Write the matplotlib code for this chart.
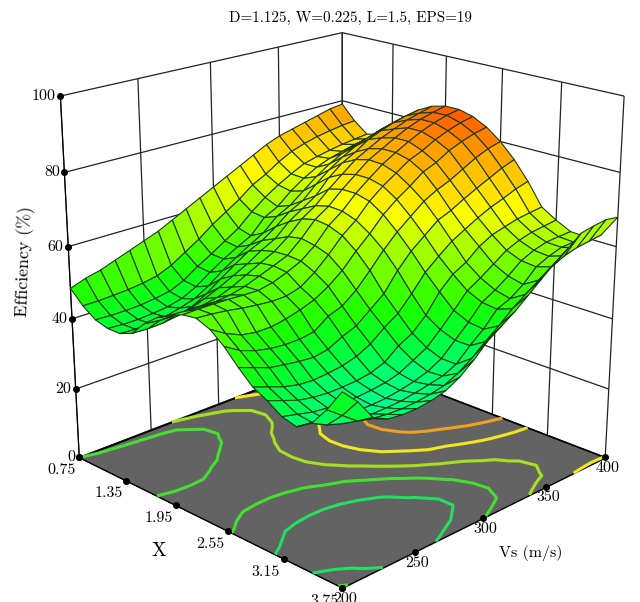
import numpy as np
import matplotlib
matplotlib.use("Agg")
import matplotlib.pyplot as plt
from matplotlib.colors import LinearSegmentedColormap, Normalize
from mpl_toolkits.mplot3d.art3d import Poly3DCollection

plt.rcParams['font.family'] = ['cmr10', 'DejaVu Serif']
plt.rcParams['axes.formatter.use_mathtext'] = True
plt.rcParams['axes.unicode_minus'] = False

title = "D=1.125, W=0.225, L=1.5, EPS=19"
vs_ticks = [200, 250, 300, 350, 400]
x_ticks = [0.75, 1.35, 1.95, 2.55, 3.15, 3.75]
z_ticks = [0, 20, 40, 60, 80, 100]
vs_grid = [200, 210, 220, 230, 240, 250, 260, 270, 280, 290, 300, 310, 320, 330, 340, 350, 360, 370, 380, 390, 400]
x_grid = [0.75, 0.90, 1.05, 1.20, 1.35, 1.50, 1.65, 1.80, 1.95, 2.10, 2.25, 2.40, 2.55, 2.70, 2.85, 3.00, 3.15, 3.30, 3.45, 3.60, 3.75]
contour_levels = [39, 48.5, 58, 67.5, 77]
contour_colors = ['#22e060', '#44e030', '#a6e020', '#f2e61e', '#f0a01e']

# rows: X from 0.75 to 3.75; columns: Vs from 200 to 400
efficiency = [
 [48.5,50,51,52.5,54,55.5,57,59,61,63,65,67,69,71,73,74.5,75.5,76.5,77.5,78.5,79],
 [45,45,45.2,45.5,46,46.8,48.5,51,53.5,56.5,59,61.5,64.5,66.5,69,71,72.3,73.3,74,74.6,75],
 [42.5,42.3,42.3,42.5,43,43.7,45.5,48.2,50.5,53,55.5,59,62,64.5,66.6,68.5,69.5,70.3,71,71.5,72],
 [41.5,41.2,41.2,41.5,42,43,45,47.8,50.3,52.5,54.5,58.5,60.5,63.8,66.4,68.5,70,71,72,72.6,73],
 [41.5,41.3,41.5,42,43,44.2,46.5,49.5,52,54.3,56.5,60,62,65,68,70.5,72.5,73.8,74.8,75.5,76],
 [43,42.8,43,43.6,44.8,47,49.8,52.5,55,56.8,59.5,62.5,64.5,68,71,73.5,75.5,77,78.3,79.3,80],
 [47,46.5,46.5,46.8,48.3,50,52,54,56.5,58.5,62,64.5,67,71,74,76,78.5,80,81.3,82.3,83],
 [50,49.2,49,49.2,50,51.5,53.5,55.5,57.4,60.3,64,66.5,70,73,76,78,80,81.5,83,84,85],
 [52,51.7,51.5,51.5,52,53,54.5,56,57.6,61,65,67.5,71,74,77,79,81,82.8,84.2,85.2,86],
 [53.5,53.6,53.6,53.5,53.3,53.2,54,55.5,57.3,60.3,64.5,67.3,71,74,76.8,79,81,82.8,84.2,85.3,86],
 [54,53.7,53.2,52.5,52,51.6,51.7,52.8,55.5,59,63,66,70,73,75.5,78,79.5,81.5,83,84.2,85],
 [52.5,50,48.2,47.5,47.5,48.2,49.3,50.7,53,56,60,63.5,67.5,70.5,73,75.8,77.3,79.5,81,82.2,83],
 [49.5,47,45.5,44.6,44.2,44.2,44.8,47.6,49,52,56,60.3,64,67,70,72,73.5,75.5,77.5,79,80],
 [45.5,44,42.5,41.8,41.2,40.8,41.5,43.5,45,48,51,56,60,63,66,67.5,69.5,71.3,73,74.7,76],
 [42,40.5,39,38,37.7,38,38.5,39.6,41.5,44.5,47,51,55.5,58.6,61.5,63.5,65.5,67.2,68.5,70,71],
 [40,38.5,37,36.2,35.8,35.8,36,36.6,38,41,43,46.5,51.5,55,57,60,62,63,64,64.5,65],
 [37.5,36.5,35.5,35,34.7,34.7,35,35.5,36.5,38.5,40.5,44,47.8,51.8,54,56.5,59,60.5,61.5,62,62.5],
 [36.5,36,35,34.5,34.2,34.2,34.4,35,35.8,37,39,42.5,46,50,52,54.5,57.4,59,60,60.3,60.5],
 [39,37,35.7,35.3,35,35,35.2,35.8,36.5,37.3,39,42.5,45.5,49.5,51,53.5,57,58.6,59.8,60,60.3],
 [44,41,38,37,36.5,36.3,36.5,37,37.8,39.5,42,45,47.8,51,53.5,56,58.3,60,61,61.5,62],
 [50,46,40.5,38.5,38,38,38.5,39.5,41.5,44.5,48,50.5,53,56,59,62,64.5,67.3,68,68.5,68],
]

Z = np.array(efficiency, dtype=float)
VS, XX = np.meshgrid(vs_grid, x_grid)

norm = Normalize(20, 100)
stops = [(20, (0, 1, .85)), (34, (0, 1, .55)), (42, (0, 1, .2)), (48, (.1, 1, 0)),
         (60, (.62, 1, 0)), (68, (1, 1, 0)), (80, (1, .62, 0)), (87, (1, .28, 0)), (100, (1, 0, 0))]
cmap = LinearSegmentedColormap.from_list('eff', [(norm(v), c) for v, c in stops])

fig = plt.figure(figsize=(6.4, 6.02), dpi=100)
ax = fig.add_axes([10/640, -0.022, 647/640, 647/602], projection='3d', computed_zorder=False)
ax.set_proj_type('persp', focal_length=0.55)
ax.view_init(elev=20.3, azim=-45)
ax.set_box_aspect((1, 1, 1.0))
ax.set_xlim(x_ticks[0], x_ticks[-1], view_margin=0)
ax.set_ylim(vs_ticks[0], vs_ticks[-1], view_margin=0)
ax.set_zlim(z_ticks[0], z_ticks[-1], view_margin=0)
ax.patch.set_alpha(0)

for axis in (ax.xaxis, ax.yaxis, ax.zaxis):
    axis.set_pane_color((1, 1, 1, 1))
    axis.pane.set_edgecolor('none')
    axis._axinfo['grid'].update(color='#222222', linewidth=0.9)
    axis._axinfo['tick'].update(inward_factor=0, outward_factor=0)
ax.grid(True)
ax.zaxis.set_ticks_position('lower')
ax.set_xticks(x_ticks)
ax.set_yticks(vs_ticks)
ax.set_zticks(z_ticks)
ax.set_xticklabels([f"{v:.2f}" for v in x_ticks], ha='right', va='top')
ax.set_yticklabels([str(v) for v in vs_ticks], ha='center', va='top')
ax.set_zticklabels([str(v) for v in z_ticks], ha='right', va='center')
ax.tick_params(axis='x', labelsize=11.5, pad=-5)
ax.tick_params(axis='y', labelsize=11.5, pad=-6)
ax.tick_params(axis='z', labelsize=11.5, pad=-6)

x0, x1 = x_ticks[0], x_ticks[-1]
v0, v1 = vs_ticks[0], vs_ticks[-1]
floor = Poly3DCollection([[(x0, v0, 0), (x1, v0, 0), (x1, v1, 0), (x0, v1, 0)]],
                         facecolor='#636363', edgecolor='black', linewidth=1.0, zorder=2)
ax.add_collection3d(floor)
ax.contour(XX, VS, Z, levels=contour_levels, colors=contour_colors, linewidths=2.2,
           zdir='z', offset=0, zorder=3)
ax.plot(x_ticks, [v0]*len(x_ticks), [0]*len(x_ticks), 'o', color='k', ms=4, zorder=4)
ax.plot([x1]*len(vs_ticks), vs_ticks, [0]*len(vs_ticks), 'o', color='k', ms=4, zorder=4)
ax.plot([x0]*len(z_ticks), [v0]*len(z_ticks), z_ticks, 'o', color='k', ms=4, zorder=4)
ax.plot_surface(XX, VS, Z, rstride=1, cstride=1, facecolors=cmap(norm(Z)), shade=False,
                edgecolor='#1c3a10', linewidth=0.8, antialiased=True, zorder=5)

fig.text(350/640, 1-18/602, title, ha='center', va='center', fontsize=10.9)
fig.text(159/640, 1-551/602, "X", ha='center', va='center', fontsize=14)
fig.text(531/640, 1-553/602, "Vs (m/s)", ha='center', va='center', fontsize=11.5)
fig.text(25/640, 1-261/602, "Efficiency (%)", ha='center', va='center', fontsize=12.8, rotation=88)
fig.savefig('out.png', dpi=100)
